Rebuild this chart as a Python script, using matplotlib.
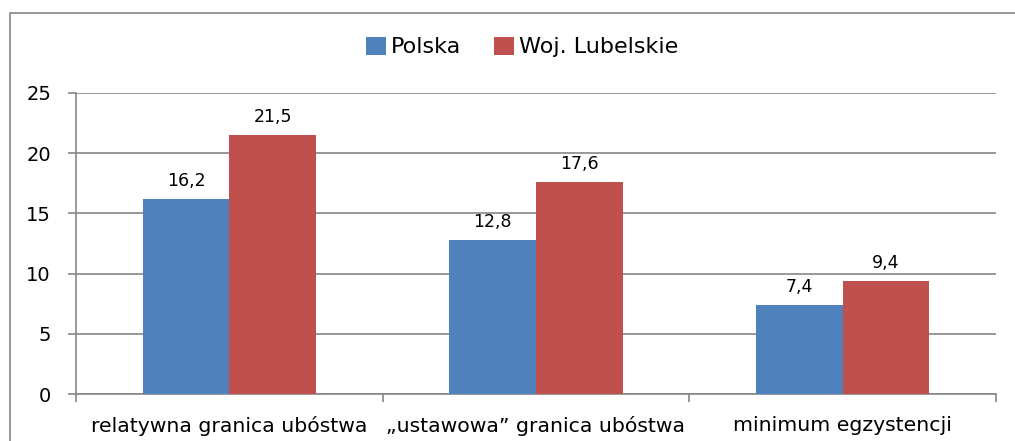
import matplotlib.pyplot as plt
import numpy as np
from matplotlib.patches import Rectangle

categories = ["relatywna granica ubóstwa", "\u201eustawowa\u201d granica ubóstwa", "minimum egzystencji"]
polska = [16.2, 12.8, 7.4]
lubelskie = [21.5, 17.6, 9.4]
series_names = ["Polska", "Woj. Lubelskie"]

plt.rcParams['font.family'] = ['DejaVu Sans']

fig = plt.figure(figsize=(10.15, 4.41), dpi=100)
ax = fig.add_axes([76 / 1015, 47 / 441, 920 / 1015, 301 / 441])

# outer chart frame (clipped at right and bottom like the source)
fig.patches.append(Rectangle((10 / 1015, -0.1), 1.2, (441 - 13) / 441 + 0.1,
                             transform=fig.transFigure, fill=False,
                             edgecolor="#868686", linewidth=1.2))

x = np.arange(len(categories))
w = 0.283
b1 = ax.bar(x - w / 2, polska, w, color="#4F81BD", label=series_names[0], zorder=3)
b2 = ax.bar(x + w / 2, lubelskie, w, color="#C0504D", label=series_names[1], zorder=3)

for bars in (b1, b2):
    for r in bars:
        ax.text(r.get_x() + r.get_width() / 2, r.get_height() + 0.75,
                f"{r.get_height():.1f}".replace(".", ","),
                ha="center", va="bottom", fontsize=12.5)

ax.set_xlim(-0.5, 2.5)
ax.set_ylim(0, 25)
ax.set_yticks(range(0, 26, 5))
ax.yaxis.grid(True, color="#868686", linewidth=1.2, zorder=0)
ax.set_xticks([-0.5, 0.5, 1.5, 2.5])
ax.set_xticklabels([])
ax.set_xticks(x, minor=True)
ax.set_xticklabels(categories, minor=True, fontsize=14.7)
ax.tick_params(axis="x", which="minor", length=0, pad=16)
ax.tick_params(axis="x", which="major", length=6, color="#868686", width=1.2)
ax.tick_params(axis="y", length=6, color="#868686", width=1.2, labelsize=14, pad=12)

for s in ["top", "right"]:
    ax.spines[s].set_visible(False)
for s in ["left", "bottom"]:
    ax.spines[s].set_color("#868686")
    ax.spines[s].set_linewidth(1.2)

ax.legend(loc="center", bbox_to_anchor=(522 / 1015, 394 / 441),
          bbox_transform=fig.transFigure, ncol=2, frameon=False,
          fontsize=16, handlelength=0.9, handleheight=0.9,
          handletextpad=0.2, columnspacing=1.5)

fig.savefig("out.png", dpi=100)
